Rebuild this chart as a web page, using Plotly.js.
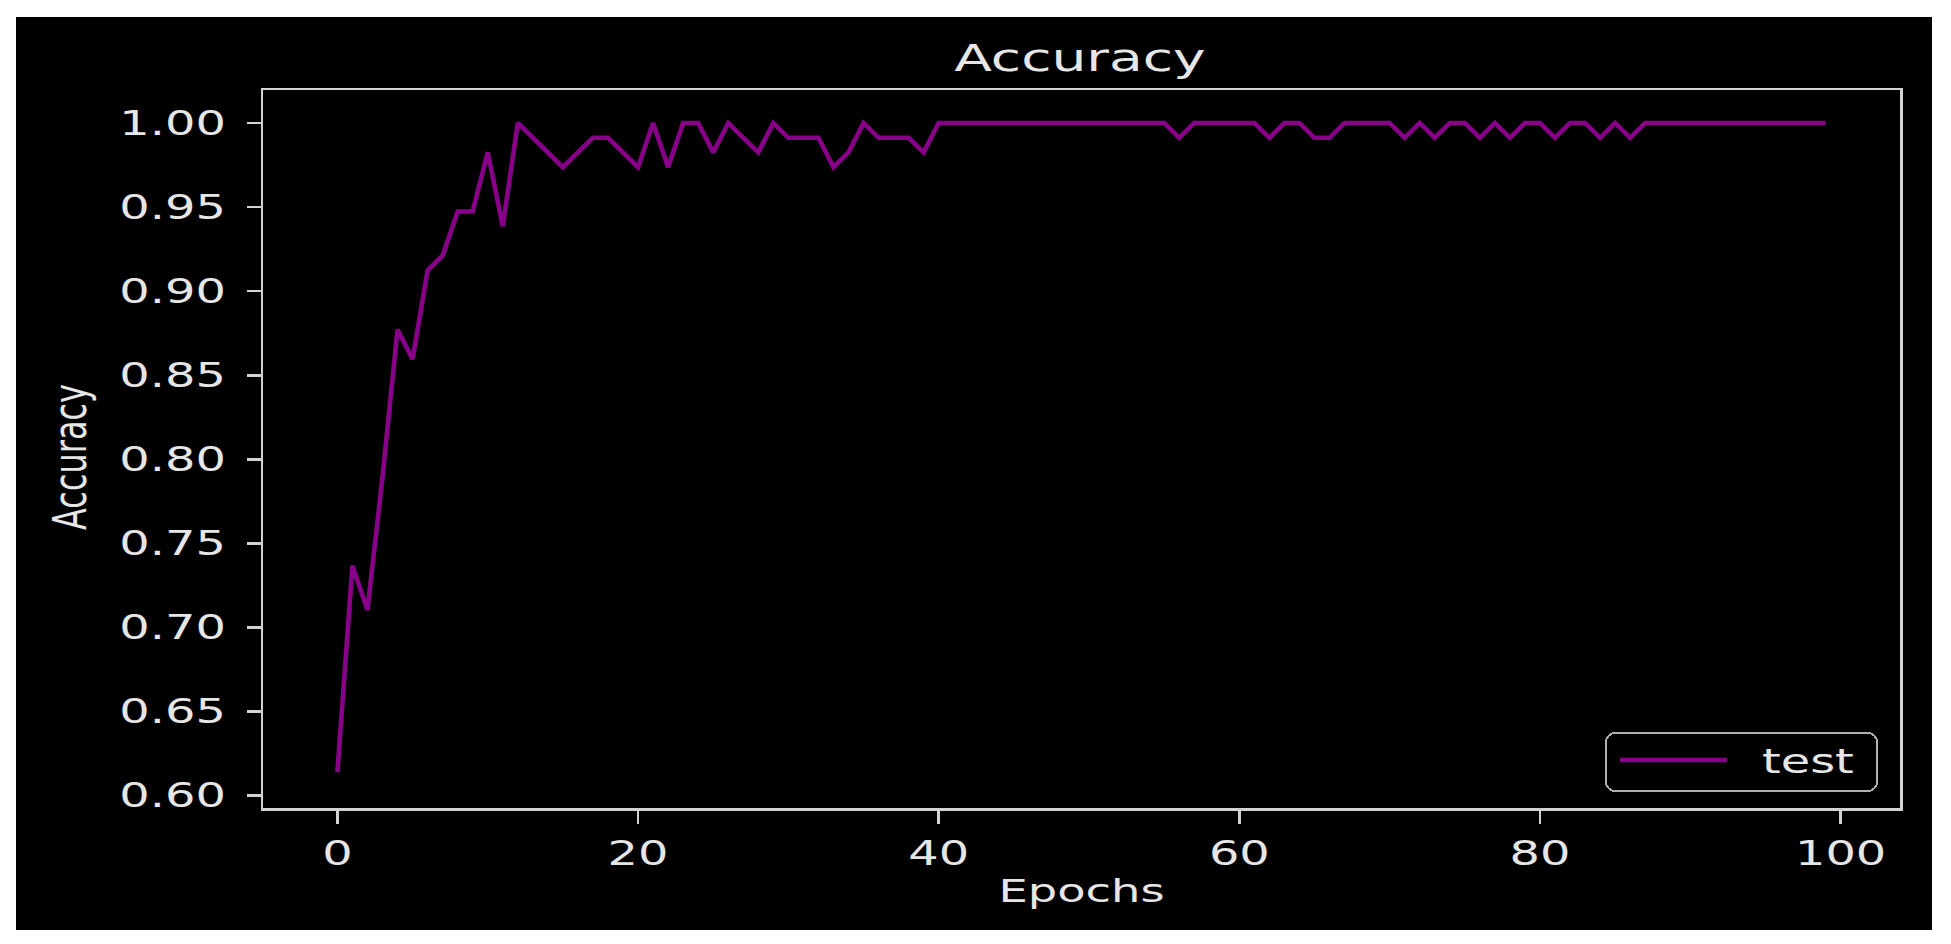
<!DOCTYPE html>
<html>
<head>
<meta charset="utf-8">
<script src="https://cdn.plot.ly/plotly-3.0.1.min.js"></script>
<style>
  html, body { margin: 0; padding: 0; background: #ffffff; }
  #chart { width: 1951px; height: 944px; }
</style>
</head>
<body>
<div id="chart"></div>
<script>
// ---- data ----
const epochs = Array.from({length: 100}, (_, i) => i);
const testAccuracy = [
  0.6140, 0.7368, 0.7105, 0.7895, 0.8772, 0.8596, 0.9123, 0.9211, 0.9474, 0.9474,
  0.9825, 0.9386, 1.0000, 0.9912, 0.9825, 0.9737, 0.9825, 0.9912, 0.9912, 0.9825,
  0.9737, 1.0000, 0.9737, 1.0000, 1.0000, 0.9825, 1.0000, 0.9912, 0.9825, 1.0000,
  0.9912, 0.9912, 0.9912, 0.9737, 0.9825, 1.0000, 0.9912, 0.9912, 0.9912, 0.9825,
  1.0000, 1.0000, 1.0000, 1.0000, 1.0000, 1.0000, 1.0000, 1.0000, 1.0000, 1.0000,
  1.0000, 1.0000, 1.0000, 1.0000, 1.0000, 1.0000, 0.9912, 1.0000, 1.0000, 1.0000,
  1.0000, 1.0000, 0.9912, 1.0000, 1.0000, 0.9912, 0.9912, 1.0000, 1.0000, 1.0000,
  1.0000, 0.9912, 1.0000, 0.9912, 1.0000, 1.0000, 0.9912, 1.0000, 0.9912, 1.0000,
  1.0000, 0.9912, 1.0000, 1.0000, 0.9912, 1.0000, 0.9912, 1.0000, 1.0000, 1.0000,
  1.0000, 1.0000, 1.0000, 1.0000, 1.0000, 1.0000, 1.0000, 1.0000, 1.0000, 1.0000
];
const seriesName = "test";
const chartTitle = "Accuracy";
const xLabel = "Epochs";
const yLabel = "Accuracy";
const xTickVals = [0, 20, 40, 60, 80, 100];
const yTickVals = [0.60, 0.65, 0.70, 0.75, 0.80, 0.85, 0.90, 0.95, 1.00];

// ---- style ----
const FONT = "DejaVu Sans";
const TXT = "#e6e6e6";
const SPINE = "#d2d2d2";
const LINE = "#880088";
const STRETCH = 1.45;   // reference text is horizontally stretched

const trace = {
  x: epochs,
  y: testAccuracy,
  type: "scatter",
  mode: "lines",
  name: seriesName,
  line: {color: LINE, width: 4.6}
};

const axisCommon = {
  showgrid: false,
  zeroline: false,
  showline: true,
  mirror: true,
  linecolor: SPINE,
  linewidth: 2.5,
  ticks: "outside",
  tickcolor: SPINE,
  tickwidth: 2.5,
  tickfont: {family: FONT, size: 33, color: TXT},
  automargin: false
};

const layout = {
  width: 1951,
  height: 944,
  paper_bgcolor: "#ffffff",
  plot_bgcolor: "#000000",
  margin: {l: 263, r: 51, t: 90, b: 136},
  showlegend: true,
  title: {
    text: chartTitle,
    font: {family: FONT, size: 38, color: TXT},
    x: 0.5535, xref: "container", xanchor: "center",
    y: 1 - 58 / 944, yref: "container", yanchor: "middle"
  },
  xaxis: Object.assign({}, axisCommon, {
    range: [-4.95, 103.95],
    tickmode: "array",
    tickvals: xTickVals,
    ticklen: 13,
    ticklabelstandoff: 2,
    title: {text: xLabel, font: {family: FONT, size: 32, color: TXT}, standoff: 8}
  }),
  yaxis: Object.assign({}, axisCommon, {
    range: [0.5927, 1.0196],
    tickmode: "array",
    tickvals: yTickVals,
    tickformat: ".2f",
    ticklen: 14,
    ticklabelstandoff: 14,
    title: {text: yLabel, font: {family: FONT, size: 32, color: TXT}, standoff: 56}
  }),
  legend: {
    x: 0.9866, xanchor: "right",
    y: 0.0223, yanchor: "bottom",
    bgcolor: "#000000",
    bordercolor: "#b0b0b0",
    borderwidth: 2,
    font: {family: FONT, size: 33, color: TXT}
  },
  shapes: [{
    type: "rect", xref: "paper", yref: "paper", layer: "below",
    x0: (16 - 263) / 1637, x1: (1932 - 263) / 1637,
    y0: (808 - 930) / 718, y1: (808 - 17) / 718,
    fillcolor: "#000000", line: {width: 0}
  }]
};

const gd = document.getElementById("chart");
Plotly.newPlot(gd, [trace], layout, {staticPlot: true, displayModeBar: false}).then(() => {
  // stretch text horizontally like the reference
  gd.querySelectorAll(".xtick text, .ytick text, .gtitle, .g-xtitle text").forEach(t => {
    const ax = parseFloat(t.getAttribute("x")) || 0;
    const T = t.getAttribute("transform") || "";
    t.setAttribute("transform", T + ` translate(${ax},0) scale(${STRETCH},1) translate(${-ax},0)`);
  });
  gd.querySelectorAll(".g-ytitle text").forEach(t => {
    const ay = parseFloat(t.getAttribute("y")) || 0;
    const T = t.getAttribute("transform") || "";
    t.setAttribute("transform", "translate(0,8) " + T + ` translate(0,${ay}) scale(1,${STRETCH}) translate(0,${-ay})`);
  });
  // legend geometry like matplotlib's fancy box
  const leg = gd.querySelector(".legend");
  if (leg) {
    const W = 273, H = 60;
    leg.setAttribute("transform", "translate(1605,732)");
    const bg = leg.querySelector("rect.bg");
    if (bg) {
      bg.setAttribute("x", 1); bg.setAttribute("y", 1);
      bg.setAttribute("width", W - 2); bg.setAttribute("height", H - 2);
      bg.setAttribute("rx", 9); bg.setAttribute("ry", 9);
    }
    leg.querySelectorAll(".scrollbox").forEach(s => s.removeAttribute("clip-path"));
    const tr = leg.querySelector(".traces");
    if (tr) tr.setAttribute("transform", "translate(0,28)");
    leg.querySelectorAll(".legendlines path").forEach(p => p.setAttribute("d", "M15,0h107"));
    leg.querySelectorAll(".legendtext").forEach(t => {
      t.setAttribute("x", 157);
      const T = t.getAttribute("transform") || "";
      t.setAttribute("transform", T + ` translate(157,0) scale(${STRETCH},1) translate(-157,0)`);
    });
  }
});
</script>
</body>
</html>
